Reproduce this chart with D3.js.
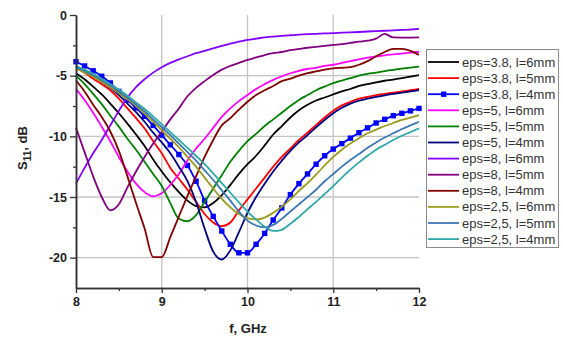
<!DOCTYPE html>
<html>
<head>
<meta charset="utf-8">
<script src="https://cdn.jsdelivr.net/npm/d3@7"></script>
<style>
  body { margin: 0; background: #fff; }
  svg { display: block; font-family: Arial, "Liberation Sans", sans-serif; }
</style>
</head>
<body>
<svg id="chart" width="563" height="341"></svg>
<script>
// frequency, GHz
var freq = [8.0, 8.1, 8.2, 8.3, 8.4, 8.5, 8.6, 8.7, 8.8, 8.9,
            9.0, 9.1, 9.2, 9.3, 9.4, 9.5, 9.6, 9.7, 9.8, 9.9,
            10.0, 10.1, 10.2, 10.3, 10.4, 10.5, 10.6, 10.7, 10.8, 10.9,
            11.0, 11.1, 11.2, 11.3, 11.4, 11.5, 11.6, 11.7, 11.8, 11.9, 12.0];

// S11, dB
var eps38_l6 = [-4.8, -5.3, -5.9, -6.55, -7.3, -8.1, -8.95, -9.85, -10.8, -11.9,
                -12.9, -13.8, -14.6, -15.3, -15.75, -15.85, -15.5, -14.85, -14.0, -13.1,
                -12.3, -11.6, -10.75, -9.85, -9.15, -8.45, -7.85, -7.4, -7.05, -6.8,
                -6.55, -6.3, -6.1, -5.85, -5.7, -5.55, -5.42, -5.32, -5.2, -5.07, -4.95];
var eps38_l5 = [-4.35, -4.75, -5.25, -5.7, -6.2, -6.9, -7.7, -8.5, -9.35, -10.4,
                -11.4, -12.6, -13.5, -14.4, -15.4, -16.4, -17.1, -17.4, -17.1, -16.1,
                -15.2, -14.3, -13.4, -12.5, -11.7, -11.0, -10.3, -9.7, -9.05, -8.45,
                -7.9, -7.45, -7.15, -6.9, -6.75, -6.6, -6.5, -6.4, -6.3, -6.2, -6.1];
var eps38_l4 = [-3.85, -4.2, -4.6, -5.05, -5.6, -6.3, -7.0, -7.65, -8.35, -9.1,
                -9.9, -10.7, -11.5, -12.4, -13.7, -15.3, -16.6, -17.8, -18.9, -19.6,
                -19.6, -18.9, -18.0, -16.9, -15.9, -14.8, -13.9, -13.1, -12.3, -11.6,
                -11.05, -10.6, -10.15, -9.7, -9.3, -8.9, -8.6, -8.3, -8.1, -7.9, -7.7];
var eps5_l6 = [-6.1, -7.0, -8.05, -9.2, -10.4, -11.7, -12.9, -13.9, -14.6, -14.95,
               -14.7, -14.0, -13.1, -12.0, -11.0, -10.2, -9.3, -8.4, -7.7, -7.1,
               -6.6, -6.1, -5.7, -5.35, -5.05, -4.8, -4.6, -4.45, -4.35, -4.2,
               -4.1, -3.95, -3.8, -3.65, -3.52, -3.42, -3.32, -3.25, -3.18, -3.1, -3.05];
var eps5_l5 = [-5.0, -5.7, -6.5, -7.35, -8.3, -9.2, -10.2, -11.1, -12.1, -13.1,
               -14.1, -15.5, -16.8, -17.0, -16.5, -15.4, -14.3, -13.2, -12.1, -11.2,
               -10.4, -9.8, -9.15, -8.6, -8.05, -7.5, -7.0, -6.6, -6.2, -5.9,
               -5.62, -5.4, -5.2, -5.0, -4.85, -4.75, -4.62, -4.52, -4.42, -4.33, -4.25];
var eps5_l4 = [-4.2, -4.6, -5.05, -5.5, -6.0, -6.6, -7.3, -8.0, -8.8, -9.7,
               -10.5, -11.4, -12.5, -13.7, -15.4, -17.6, -19.5, -20.15, -19.4, -17.9,
               -16.3, -15.0, -13.9, -12.9, -12.0, -11.2, -10.5, -9.9, -9.25, -8.65,
               -8.1, -7.65, -7.3, -7.05, -6.9, -6.75, -6.62, -6.5, -6.4, -6.3, -6.2];
var eps8_l6 = [-13.9, -12.6, -11.4, -10.3, -9.1, -7.9, -6.8, -5.95, -5.3, -4.75,
               -4.3, -3.95, -3.65, -3.4, -3.15, -2.95, -2.75, -2.55, -2.35, -2.2,
               -2.05, -1.95, -1.85, -1.78, -1.72, -1.67, -1.62, -1.58, -1.55, -1.52,
               -1.5, -1.46, -1.43, -1.4, -1.36, -1.33, -1.3, -1.26, -1.23, -1.2, -1.15];
var eps8_l5 = [-9.3, -11.3, -13.3, -15.0, -16.1, -15.6, -14.2, -12.9, -11.7, -10.6,
               -9.6, -8.6, -7.7, -6.7, -6.0, -5.45, -4.95, -4.5, -4.2, -3.95,
               -3.7, -3.5, -3.3, -3.15, -3.05, -2.9, -2.8, -2.7, -2.62, -2.55,
               -2.47, -2.4, -2.3, -2.2, -2.12, -1.95, -1.55, -1.85, -1.86, -1.86, -1.85];
var eps8_l4 = [-5.4, -6.3, -7.4, -8.4, -9.6, -11.2, -13.3, -15.5, -17.6, -19.95,
               -19.95, -18.3, -16.6, -14.9, -13.3, -11.7, -10.3, -9.1, -8.5, -7.8,
               -7.15, -6.6, -6.2, -5.85, -5.45, -5.25, -5.0, -4.8, -4.65, -4.5,
               -4.4, -4.35, -4.3, -4.1, -3.8, -3.4, -3.05, -2.8, -2.8, -2.95, -3.3];
var eps25_l6 = [-4.4, -4.75, -5.1, -5.5, -5.95, -6.45, -6.95, -7.5, -8.15, -8.8,
                -9.5, -10.2, -10.9, -11.7, -12.5, -13.4, -14.3, -15.15, -15.85, -16.4,
                -16.75, -16.85, -16.7, -16.3, -15.8, -15.2, -14.5, -13.85, -13.15, -12.4,
                -11.7, -11.1, -10.6, -10.15, -9.75, -9.45, -9.15, -8.9, -8.65, -8.45, -8.25];
var eps25_l5 = [-4.3, -4.6, -4.95, -5.35, -5.8, -6.3, -6.8, -7.35, -7.95, -8.6,
                -9.25, -9.9, -10.6, -11.3, -12.0, -12.8, -13.6, -14.45, -15.3, -16.2,
                -16.95, -17.35, -17.5, -17.3, -16.8, -16.2, -15.6, -15.0, -14.4, -13.7,
                -13.1, -12.5, -11.95, -11.45, -10.95, -10.5, -10.1, -9.75, -9.4, -9.1, -8.8];
var eps25_l4 = [-4.2, -4.5, -4.85, -5.25, -5.7, -6.15, -6.65, -7.2, -7.75, -8.35,
                -9.0, -9.65, -10.3, -10.95, -11.6, -12.3, -13.05, -13.85, -14.65, -15.45,
                -16.2, -16.85, -17.45, -17.8, -17.7, -17.2, -16.65, -16.0, -15.4, -14.75,
                -14.1, -13.4, -12.75, -12.15, -11.6, -11.1, -10.7, -10.3, -9.95, -9.65, -9.35];

var labels = ["eps=3.8, l=6mm", "eps=3.8, l=5mm", "eps=3.8, l=4mm",
              "eps=5, l=6mm", "eps=5, l=5mm", "eps=5, l=4mm",
              "eps=8, l=6mm", "eps=8, l=5mm", "eps=8, l=4mm",
              "eps=2,5, l=6mm", "eps=2,5, l=5mm", "eps=2,5, l=4mm"];
var xTicks = [8, 9, 10, 11, 12];
var yTicks = [0, -5, -10, -15, -20];

var values = [eps38_l6, eps38_l5, eps38_l4, eps5_l6, eps5_l5, eps5_l4,
              eps8_l6, eps8_l5, eps8_l4, eps25_l6, eps25_l5, eps25_l4];
var colors = ["#000000", "#ff0000", "#0000ff", "#ff00ff", "#008000", "#000080",
              "#8000ff", "#800080", "#800000", "#9a9a1e", "#3c76b4", "#30a8a8"];

var series = values.map(function(v, i) {
    return {
        name: labels[i],
        color: colors[i],
        markers: i === 2,
        points: v.map(function(s, j) { return {f: freq[j], s: s}; })
    };
});

var svg = d3.select("#chart");
var margin = {top: 15, left: 76},
    width = 343,
    height = 273;

var x = d3.scaleLinear().domain([8, 12]).range([0, width]);
var y = d3.scaleLinear().domain([-22.5, 0]).range([height, 0]);

var g = svg.append("g")
    .attr("transform", "translate(" + margin.left + "," + margin.top + ")");

// grid
g.selectAll(".vgrid")
    .data(xTicks.filter(function(d) { return d > 8 && d < 12; }))
    .enter().append("line")
    .attr("x1", function(d) { return x(d); })
    .attr("x2", function(d) { return x(d); })
    .attr("y1", 0).attr("y2", height)
    .attr("stroke", "#c4c4c4").attr("stroke-width", 1.3);

g.selectAll(".hgrid")
    .data(yTicks.filter(function(d) { return d < 0; }))
    .enter().append("line")
    .attr("x1", 0).attr("x2", width)
    .attr("y1", function(d) { return y(d); })
    .attr("y2", function(d) { return y(d); })
    .attr("stroke", "#c4c4c4").attr("stroke-width", 1.3);

// curves
var line = d3.line()
    .x(function(d) { return x(d.f); })
    .y(function(d) { return y(d.s); })
    .curve(d3.curveMonotoneX);

var curves = g.append("g");
series.forEach(function(sr) {
    curves.append("path")
        .datum(sr.points)
        .attr("fill", "none")
        .attr("stroke", sr.color)
        .attr("stroke-width", 1.8)
        .attr("d", line);
    if (sr.markers) {
        curves.selectAll(".mk")
            .data(sr.points)
            .enter().append("rect")
            .attr("x", function(d) { return x(d.f) - 2.7; })
            .attr("y", function(d) { return y(d.s) - 2.7; })
            .attr("width", 5.4).attr("height", 5.4)
            .attr("fill", sr.color);
    }
});

// axes
var axisColor = "#333";
var xAxis = g.append("g")
    .attr("transform", "translate(0," + height + ")")
    .call(d3.axisBottom(x).tickValues(xTicks).tickSize(5).tickSizeOuter(0).tickPadding(4)
        .tickFormat(d3.format("d")));
var xMinor = g.append("g")
    .attr("transform", "translate(0," + height + ")")
    .call(d3.axisBottom(x).tickValues([8.5, 9.5, 10.5, 11.5]).tickSize(3).tickSizeOuter(0).tickFormat(""));
var yAxis = g.append("g")
    .call(d3.axisLeft(y).tickValues(yTicks).tickSize(6).tickSizeOuter(0).tickPadding(3)
        .tickFormat(function(d) { return d === 0 ? "0" : "-" + Math.abs(d); }));
var yMinor = g.append("g")
    .call(d3.axisLeft(y).tickValues([-2.5, -7.5, -12.5, -17.5]).tickSize(3).tickSizeOuter(0).tickFormat(""));

[xAxis, xMinor, yAxis, yMinor].forEach(function(a) {
    a.select(".domain").attr("stroke", axisColor).attr("stroke-width", 1.5);
    a.selectAll(".tick line").attr("stroke", axisColor).attr("stroke-width", 1.3);
    a.selectAll("text")
        .attr("fill", "#222")
        .style("font-size", "12.5px")
        .style("font-weight", "bold");
});

// axis titles
svg.append("text")
    .attr("x", 248).attr("y", 333)
    .attr("text-anchor", "middle")
    .style("font-size", "13px").style("font-weight", "bold")
    .attr("fill", "#222")
    .text("f, GHz");

var yt = svg.append("text")
    .attr("transform", "translate(27,148) rotate(-90)")
    .attr("text-anchor", "middle")
    .style("font-size", "13px").style("font-weight", "bold")
    .attr("fill", "#222");
yt.append("tspan").text("S");
yt.append("tspan").attr("dy", 4).style("font-size", "10px").text("11");
yt.append("tspan").attr("dy", -4).text(", dB");

// legend
var legend = svg.append("g");
legend.append("rect")
    .attr("x", 426.5).attr("y", 49.5)
    .attr("width", 132).attr("height", 198)
    .attr("fill", "#fff")
    .attr("stroke", "#8a8a8a").attr("stroke-width", 1);

var item = legend.selectAll(".item")
    .data(series)
    .enter().append("g")
    .attr("transform", function(d, i) { return "translate(0," + (62 + i * 16.1) + ")"; });

item.append("line")
    .attr("x1", 428).attr("x2", 459)
    .attr("stroke", function(d) { return d.color; })
    .attr("stroke-width", 1.8);
item.filter(function(d) { return d.markers; })
    .append("rect")
    .attr("x", 441).attr("y", -2.7)
    .attr("width", 5.4).attr("height", 5.4)
    .attr("fill", function(d) { return d.color; });
item.append("text")
    .attr("x", 462).attr("y", 4.5)
    .style("font-size", "13px")
    .attr("fill", "#333")
    .text(function(d) { return d.name; });
</script>
</body>
</html>
